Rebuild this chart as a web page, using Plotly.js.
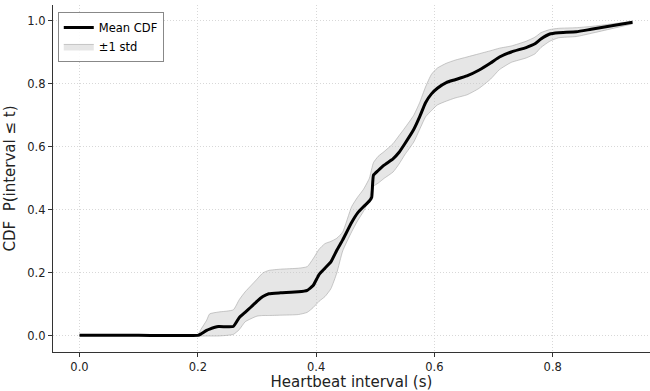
<!DOCTYPE html>
<html>
<head>
<meta charset="utf-8">
<script src="https://cdn.plot.ly/plotly-3.0.1.min.js"></script>
<style>html,body{margin:0;padding:0;background:#fff;}#chart{width:650px;height:391px;}</style>
</head>
<body>
<div id="chart"></div>
<script>
const intervalS = [0, 0.1, 0.2, 0.205, 0.215, 0.22, 0.235, 0.26, 0.27, 0.28, 0.29, 0.30, 0.31, 0.32, 0.34, 0.37, 0.385, 0.395, 0.405, 0.415, 0.425, 0.435, 0.445, 0.46, 0.47, 0.48, 0.49, 0.494, 0.497, 0.505, 0.515, 0.53, 0.54, 0.55, 0.565, 0.575, 0.585, 0.595, 0.605, 0.62, 0.635, 0.655, 0.675, 0.695, 0.71, 0.73, 0.755, 0.77, 0.78, 0.795, 0.81, 0.84, 0.865, 0.90, 0.935];
const meanCdf = [0.002, 0.002, 0.002, 0.006, 0.018, 0.022, 0.03, 0.03, 0.058, 0.075, 0.092, 0.11, 0.125, 0.134, 0.137, 0.14, 0.145, 0.16, 0.195, 0.215, 0.235, 0.272, 0.305, 0.36, 0.39, 0.41, 0.428, 0.44, 0.51, 0.525, 0.542, 0.562, 0.582, 0.61, 0.655, 0.695, 0.74, 0.768, 0.786, 0.804, 0.813, 0.825, 0.843, 0.866, 0.885, 0.901, 0.915, 0.927, 0.942, 0.958, 0.962, 0.965, 0.973, 0.984, 0.995];
const upperCdf = [0.002, 0.002, 0.004, 0.02, 0.05, 0.07, 0.076, 0.083, 0.115, 0.14, 0.16, 0.18, 0.2, 0.208, 0.212, 0.215, 0.22, 0.245, 0.275, 0.293, 0.3, 0.31, 0.33, 0.41, 0.44, 0.465, 0.5, 0.53, 0.55, 0.57, 0.585, 0.61, 0.635, 0.66, 0.7, 0.74, 0.79, 0.83, 0.85, 0.865, 0.875, 0.885, 0.895, 0.905, 0.913, 0.92, 0.935, 0.948, 0.962, 0.972, 0.976, 0.978, 0.982, 0.99, 0.998];
const lowerCdf = [0.002, 0.002, 0.001, 0.0, 0.0, 0.0, 0.0, 0.005, 0.02, 0.045, 0.055, 0.063, 0.065, 0.065, 0.066, 0.068, 0.075, 0.09, 0.11, 0.125, 0.15, 0.2, 0.27, 0.33, 0.365, 0.395, 0.435, 0.465, 0.475, 0.485, 0.5, 0.52, 0.545, 0.575, 0.615, 0.655, 0.695, 0.715, 0.733, 0.745, 0.755, 0.765, 0.785, 0.815, 0.845, 0.868, 0.882, 0.895, 0.915, 0.935, 0.946, 0.95, 0.96, 0.975, 0.99];
const xTicks = [0, 0.2, 0.4, 0.6, 0.8];
const yTicks = [0, 0.2, 0.4, 0.6, 0.8, 1.0];

const FONT = 'DejaVu Sans, sans-serif';
const traces = [
  {x: intervalS, y: lowerCdf, mode: 'lines', line: {color: 'rgba(160,160,160,0.7)', width: 0.8, shape: 'spline', smoothing: 0.5}, showlegend: false, hoverinfo: 'skip'},
  {x: intervalS, y: upperCdf, mode: 'lines', fill: 'tonexty', fillcolor: 'rgba(200,200,200,0.45)', line: {color: 'rgba(160,160,160,0.7)', width: 0.8, shape: 'spline', smoothing: 0.5}, name: '±1 std'},
  {x: intervalS, y: meanCdf, mode: 'lines', line: {color: '#000', width: 3, shape: 'spline', smoothing: 0.4}, name: 'Mean CDF'}
];
const layout = {
  width: 650, height: 391,
  margin: {l: 53, r: 0, t: 5, b: 39},
  paper_bgcolor: '#fff', plot_bgcolor: '#fff',
  font: {family: FONT, color: '#222', size: 11.5},
  showlegend: true,
  legend: {x: 0.008, y: 0.98, xanchor: 'left', yanchor: 'top', traceorder: 'reversed', bgcolor: 'rgba(255,255,255,0.9)', bordercolor: '#888', borderwidth: 1, font: {family: FONT, size: 11.5, color: '#000'}, tracegroupgap: 0, itemwidth: 30},
  xaxis: {
    range: [-0.0448, 0.9645], tickvals: xTicks, tickformat: '.1f',
    showline: true, linecolor: '#333', linewidth: 1.2, mirror: false,
    ticks: 'outside', ticklen: 4, tickcolor: '#333',
    showgrid: true, gridcolor: '#d8d8d8', griddash: '1px,2px', gridwidth: 1, zeroline: false,
    title: {text: 'Heartbeat interval (s)', font: {family: FONT, size: 15, color: '#222'}, standoff: 6}
  },
  yaxis: {
    range: [-0.0508, 1.05], tickvals: yTicks, tickformat: '.1f',
    showline: true, linecolor: '#333', linewidth: 1.2, mirror: false,
    ticks: 'outside', ticklen: 4, tickcolor: '#333',
    showgrid: true, gridcolor: '#d8d8d8', griddash: '1px,2px', gridwidth: 1, zeroline: false,
    title: {text: 'CDF  P(interval ≤ t)', font: {family: FONT, size: 15, color: '#222'}, standoff: 8}
  }
};
Plotly.newPlot('chart', traces, layout, {displayModeBar: false, staticPlot: true});
</script>
</body>
</html>
